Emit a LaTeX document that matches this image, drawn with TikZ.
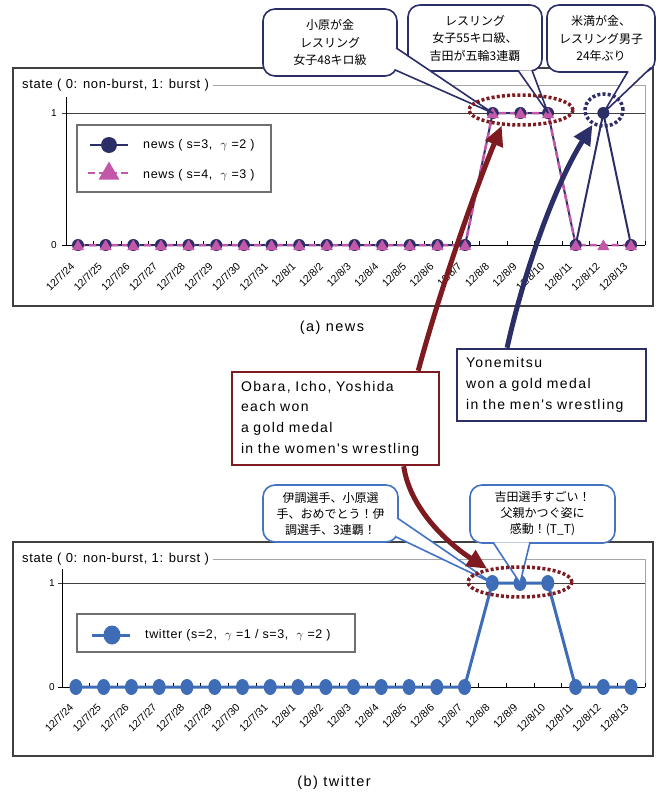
\documentclass[tikz,border=0pt]{standalone}
\usepackage{fontspec}
\setmainfont{Liberation Sans}[LetterSpace=5]
\newfontfamily\jpfont{Noto Sans CJK JP}
\newfontfamily\widefont{Liberation Sans}[LetterSpace=10]
\newfontfamily\datefont{Liberation Sans}
\usetikzlibrary{shapes.geometric,arrows.meta,calc}
\definecolor{Nv}{RGB}{44,46,104}
\definecolor{Pk}{RGB}{196,88,168}
\definecolor{Mr}{RGB}{125,27,32}
\definecolor{Tw}{RGB}{62,108,182}
\definecolor{Tn}{RGB}{68,114,196}
\definecolor{Fr}{RGB}{64,64,64}
\definecolor{Lg}{RGB}{112,112,112}
\definecolor{Ed}{RGB}{165,165,165}

% wedge of a callout: colour, base point, tip, base point
\newcommand{\notetail}[4]{%
  \fill[white] #2 -- #3 -- #4 -- cycle;
  \draw[#1, line width=1.6pt, line join=round] #2 -- #3 -- #4;}

\begin{document}
\begin{tikzpicture}[x=1pt, y=-1pt,
    chartframe/.style={draw=Fr, line width=2pt},
    plotedge/.style={draw=Ed, line width=0.8pt},
    axisline/.style={draw=black, line width=0.8pt},
    gridone/.style={draw=black!75, line width=0.8pt},
    legbox/.style={draw=Lg, line width=2.5pt},
    ttl/.style={font=\fontsize{13}{15}\selectfont, inner sep=4pt, anchor=west},
    capt/.style={font=\widefont\fontsize{14.5}{16}\selectfont},
    ylbl/.style={font=\fontsize{10}{11}\selectfont, anchor=east, inner sep=0pt},
    datelbl/.style={font=\datefont\fontsize{10.5}{11}\selectfont, anchor=east, rotate=45, inner sep=0.5pt},
    legtxt/.style={font=\fontsize{12.5}{14}\selectfont, anchor=west, inner sep=0pt},
    navyline/.style={draw=Nv, line width=2pt},
    pinkline/.style={draw=Pk, line width=2.5pt, dash pattern=on 7pt off 4pt},
    navydot/.style={circle, fill=Nv, inner sep=0pt, minimum size=12pt},
    pinktri/.style={regular polygon, regular polygon sides=3, fill=Pk, inner sep=0pt, minimum size=14pt, yshift=-1.5pt},
    twline/.style={draw=Tw, line width=3pt},
    twdot/.style={ellipse, fill=Tw, inner sep=0pt, minimum width=13pt, minimum height=16pt},
    newsnote/.style={draw=Nv, line width=1.6pt, fill=white, rounded corners=12pt, inner sep=0pt,
      font=\jpfont\fontsize{12}{17.5}\selectfont, align=center},
    twnote/.style={draw=Tn, line width=1.6pt, fill=white, rounded corners=12pt, inner sep=0pt,
      font=\jpfont\fontsize{12}{16}\selectfont, align=center},
    burst/.style={ellipse, line width=3.5pt, dash pattern=on 3pt off 2.2pt, inner sep=0pt},
    gloss/.style={line width=2.5pt, fill=white, inner xsep=9pt, align=left,
      font=\widefont\fontsize{14}{20.7}\selectfont},
    bigarrow/.style={line width=5pt, -{Triangle[length=20pt, width=18pt]}},
  ]
  \useasboundingbox (0,0) rectangle (658,792);

  % ---- (a) news ----
  \draw[chartframe] (13,68) rectangle (653,306);
  \node[ttl] (ttlA) at (18,85) {state ( 0: non-burst, 1: burst )};
  \draw[plotedge] (ttlA.east) -| (645,245);
  \draw[gridone] (62,113) -- (645,113);
  \draw[axisline] (66,97) -- (66,245) -- (645,245);
  \draw[axisline] (62,245) -- (66,245);
  \foreach \k in {0,...,21} \draw[axisline] ({66+27.57*\k},245) -- ++(0,-4);
  \node[ylbl] (yA1) at (57,113) {1};
  \node[ylbl] (yA0) at (57,245) {0};
  \foreach \d [count=\i from 0] in {12/7/24,12/7/25,12/7/26,12/7/27,12/7/28,12/7/29,12/7/30,12/7/31,
      12/8/1,12/8/2,12/8/3,12/8/4,12/8/5,12/8/6,12/8/7,12/8/8,12/8/9,12/8/10,12/8/11,12/8/12,12/8/13}
    \node[datelbl] (dA\i) at ({78+27.65*\i-5},264) {\d};

  \foreach \v [count=\i from 0] in {0,0,0,0,0,0,0,0,0,0,0,0,0,0,0,1,1,1,0,1,0}
    \coordinate (na\i) at ({78+27.65*\i},{245-132*\v});
  \foreach \v [count=\i from 0] in {0,0,0,0,0,0,0,0,0,0,0,0,0,0,0,1,1,1,0,0,0}
    \coordinate (pa\i) at ({78+27.65*\i},{245-132*\v});
  \draw[navyline] (na0) \foreach \i in {1,...,20} {-- (na\i)};
  \draw[pinkline] (pa0) \foreach \i in {1,...,20} {-- (pa\i)};
  \foreach \i in {0,...,20} \node[navydot] (nd\i) at (na\i) {};
  \foreach \i in {0,...,20} \node[pinktri] (pd\i) at (pa\i) {};

  \draw[legbox] (77,125) rectangle (271,192);
  \draw[navyline] (90,145) -- (128,145);
  \node[navydot, minimum size=16pt] (lgA) at (109,145) {};
  \node[legtxt] (lgAt) at (143,145) {news ( s=3,\ \ $\gamma$ =2 )};
  \draw[pinkline] (88,173) -- (130,173);
  \node[pinktri, minimum size=24pt, yshift=0pt] (lgB) at (109,172) {};
  \node[legtxt] (lgBt) at (143,175) {news ( s=4,\ \ $\gamma$ =3 )};
  \node[capt] (capA) at (332,328) {(a) news};

  % ---- (b) twitter ----
  \draw[chartframe] (13,542) rectangle (653,756);
  \node[ttl] (ttlB) at (18,559) {state ( 0: non-burst, 1: burst )};
  \draw[plotedge] (ttlB.east) -| (645,687);
  \draw[gridone] (58,583) -- (645,583);
  \draw[axisline] (62,569) -- (62,687) -- (645,687);
  \draw[axisline] (58,687) -- (62,687);
  \foreach \k in {0,...,21} \draw[axisline] ({62+27.76*\k},687) -- ++(0,-4);
  \node[ylbl] (yB1) at (55,583) {1};
  \node[ylbl] (yB0) at (55,687) {0};
  \foreach \d [count=\i from 0] in {12/7/24,12/7/25,12/7/26,12/7/27,12/7/28,12/7/29,12/7/30,12/7/31,
      12/8/1,12/8/2,12/8/3,12/8/4,12/8/5,12/8/6,12/8/7,12/8/8,12/8/9,12/8/10,12/8/11,12/8/12,12/8/13}
    \node[datelbl] (dB\i) at ({75.9+27.76*\i-4},705) {\d};

  \foreach \v [count=\i from 0] in {0,0,0,0,0,0,0,0,0,0,0,0,0,0,0,1,1,1,0,0,0}
    \coordinate (ta\i) at ({75.9+27.76*\i},{687-104*\v});
  \draw[twline] (ta0) \foreach \i in {1,...,20} {-- (ta\i)};
  \foreach \i in {0,...,20} \node[twdot] (td\i) at (ta\i) {};

  \draw[legbox] (77,614) rectangle (355,652);
  \draw[twline] (92,635) -- (130,635);
  \node[twdot, minimum width=17pt, minimum height=19pt] (lgC) at (112,635) {};
  \node[legtxt] (lgCt) at (145,635) {twitter (s=2,\ \ $\gamma$ =1 / s=3,\ \ $\gamma$ =2 )};
  \node[capt] (capB) at (334,783) {(b) twitter};

  % ---- callouts ----
  \node[newsnote, minimum width=134pt, minimum height=67pt] (noteA) at (330,42.5) {小原が金\\レスリング\\女子48キロ級};
  \node[newsnote, minimum width=134pt, minimum height=66pt] (noteB) at (475,38) {レスリング\\女子55キロ級、\\吉田が五輪3連覇};
  \node[newsnote, minimum width=108pt, minimum height=67pt] (noteC) at (601,38.5) {米満が金、\\レスリング男子\\24年ぶり};
  \notetail{Nv}{($(noteA.east)+(-1.5,5.5)$)}{(nd15.center)}{($(noteA.south east)+(-3,-7)$)}
  \notetail{Nv}{($(noteB.south)+(43,-1.5)$)}{(nd17.center)}{($(noteB.south)+(57,-1.5)$)}
  \notetail{Nv}{($(noteC.south)+(27,-1.5)$)}{(nd19.center)}{($(noteC.south east)+(-5,-5)$)}

  \node[twnote, minimum width=135pt, minimum height=57pt] (noteD) at (330.5,513.5) {伊調選手、小原選\\手、おめでとう！伊\\調選手、3連覇！};
  \node[twnote, minimum width=145pt, minimum height=58pt] (noteE) at (542.5,514) {吉田選手すごい！\\父親かつぐ姿に\\感動！(T\_T)};
  \notetail{Tn}{($(noteD.east)+(-1.5,4.5)$)}{(td15.center)}{($(noteD.south east)+(-3,-6)$)}
  \notetail{Tn}{($(noteE.south)+(-49.5,-1.5)$)}{(td16.center)}{($(noteE.south)+(-12.5,-1.5)$)}

  % ---- burst periods ----
  \node[burst, draw=Mr, minimum width=104pt, minimum height=30pt] (hotA) at (521,110) {};
  \node[burst, draw=Nv, minimum width=38pt, minimum height=32pt] (hotB) at (604,110) {};
  \node[burst, draw=Mr, minimum width=104pt, minimum height=30pt] (hotC) at (520,582) {};

  \node[gloss, draw=Mr, text width=189pt, minimum height=93pt] (glossA) at (335.5,418.5)
    {Obara, Icho, Yoshida\\each won\\a gold medal\\in the women's wrestling};
  \node[gloss, draw=Nv, text width=171pt, minimum height=72pt] (glossB) at (551.5,385)
    {Yonemitsu\\won a gold medal\\in the men's wrestling};

  \draw[bigarrow, Mr] (glossA.30) .. controls (440,290) and (475,190) .. (hotA.219);
  \draw[bigarrow, Nv] (glossB.140) .. controls (522,280) and (552,190) .. (hotB.232);
  \draw[bigarrow, Mr] (glossA.-35) .. controls (410,510) and (450,545) .. (hotC.158);
\end{tikzpicture}
\end{document}
